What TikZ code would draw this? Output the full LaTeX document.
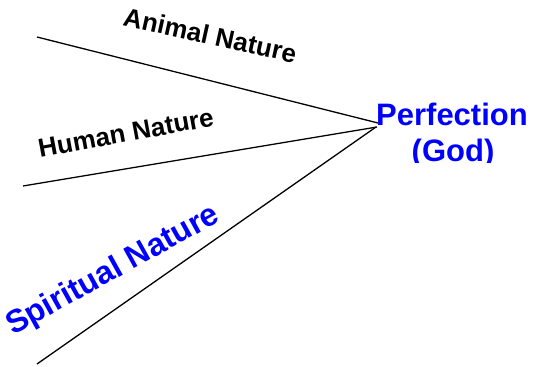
\documentclass[tikz,border=0pt]{standalone}
\usepackage{fontspec}
\setmainfont{Liberation Sans}
\definecolor{godblue}{RGB}{0,0,255}
\begin{document}
\begin{tikzpicture}[x=1pt,y=-1pt,
  conn/.style={line width=1.3pt,black},
  lbl/.style={font=\fontsize{26}{31}\selectfont\bfseries,inner sep=0pt,anchor=base west},
  biglbl/.style={font=\fontsize{31}{37}\selectfont\bfseries,inner sep=0pt,text=godblue}]
\useasboundingbox (0,0) rectangle (534,366);
% end points
\coordinate (a0) at (37,37);
\coordinate (h0) at (23,186);
\coordinate (s0) at (37,364);
\coordinate (aend) at (378,123);
\coordinate (hend) at (377,127);
\coordinate (send) at (376,127);
\draw[conn] (a0) -- (aend);
\draw[conn] (h0) -- (hend);
\draw[conn] (s0) -- (send);
% labels
\begin{scope}
\clip (0,0) rectangle (534,65);
\node[lbl,rotate=-12.5] (animal) at (122,25) {Animal Nature};
\end{scope}
\node[lbl,rotate=10.5] (human) at (40,158) {Human Nature};
\begin{scope}
\clip (0,0) rectangle (534,333);
\node[biglbl,font=\fontsize{32}{38}\selectfont\bfseries,anchor=base west,rotate=29] (spirit) at (13,336) {Spiritual Nature};
\end{scope}
\node[biglbl,anchor=base] (perf) at (452,125) {Perfection};
\begin{scope}
\clip (0,0) rectangle (534,162);
\node[biglbl,anchor=base] (god) at (453,161) {(God)};
\end{scope}
\end{tikzpicture}
\end{document}
